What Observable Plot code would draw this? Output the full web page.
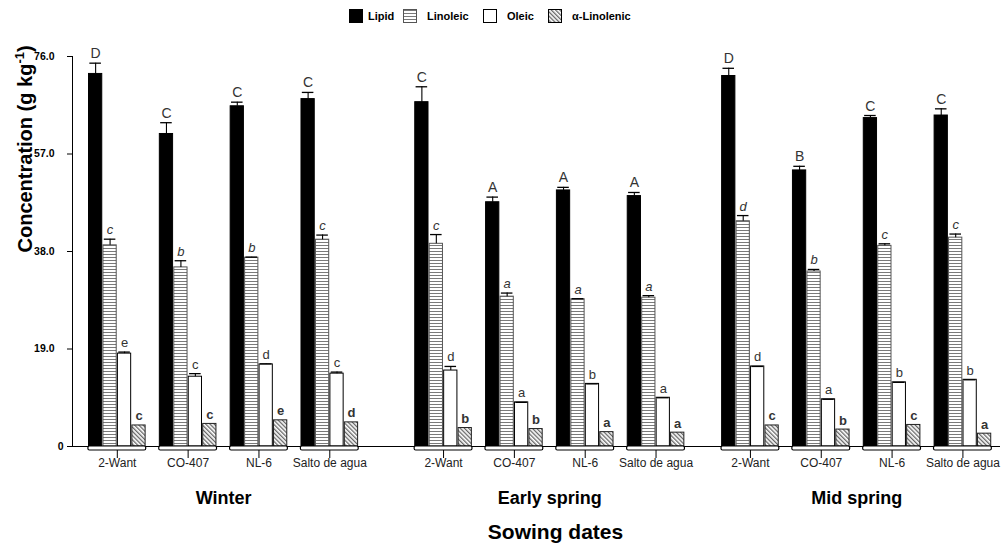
<!DOCTYPE html>
<html>
<head>
<meta charset="utf-8">
<script src="https://cdn.jsdelivr.net/npm/d3@7"></script>
<script src="https://cdn.jsdelivr.net/npm/@observablehq/plot@0.6"></script>
<style>
  html, body { margin: 0; padding: 0; background: #fff; }
  body { width: 1004px; height: 552px; overflow: hidden; font-family: "Liberation Sans", Arial, sans-serif; }
  #legend { position: relative; height: 34px; }
  .item { position: absolute; top: 9px; display: flex; align-items: center; font-size: 11px; font-weight: bold; color: #000; }
  .sw { width: 14px; height: 14px; box-sizing: border-box; }
  .sw svg { display: block; }
</style>
</head>
<body>
<svg width="0" height="0" style="position:absolute">
  <defs>
    <pattern id="hl" patternUnits="userSpaceOnUse" width="6" height="3">
      <rect width="6" height="3" fill="#fff"></rect>
      <rect y="1" width="6" height="1" fill="#7a7a7a"></rect>
    </pattern>
    <pattern id="diag" patternUnits="userSpaceOnUse" width="3" height="6" patternTransform="rotate(-45)">
      <rect width="3" height="6" fill="#fff"></rect>
      <rect x="1" width="1.3" height="6" fill="#666"></rect>
    </pattern>
  </defs>
</svg>
<div id="legend"></div>
<div id="chart"></div>
<script>
// ---------- data ----------
const seasons = ["Winter", "Early spring", "Mid spring"];
const cultivars = ["2-Want", "CO-407", "NL-6", "Salto de agua"];
const acids = ["Lipid", "Linoleic", "Oleic", "α-Linolenic"];
const yTicks = [0, 19, 38, 57, 76];

// values ordered season by season, cultivar by cultivar
const lipid       = [72.6, 60.9, 66.3, 67.7,  67.1, 47.6, 49.9, 48.8,  72.2, 53.8, 64.0, 64.5];
const lipidErr    = [ 2.1,  2.2,  0.8,  1.3,   3.0,  1.0,  0.6,  0.7,   1.5,  0.8,  0.5,  1.3];
const linoleic    = [39.2, 34.9, 36.8, 40.3,  39.5, 29.2, 28.7, 29.0,  43.9, 34.1, 39.1, 40.7];
const linoleicErr = [ 1.2,  1.3,  0.1,  0.9,   1.8,  0.7,  0.1,  0.4,   1.1,  0.4,  0.4,  0.7];
const oleic       = [18.1, 13.6, 16.0, 14.2,  14.8,  8.6, 12.2,  9.5,  15.6,  9.2, 12.5, 13.0];
const oleicErr    = [ 0.3,  0.6,  0.1,  0.3,   0.8,  0.0,  0.0,  0.0,   0.0,  0.0,  0.0,  0.0];
const linolenic   = [ 4.1,  4.4,  5.1,  4.7,   3.6,  3.4,  2.8,  2.7,   4.1,  3.3,  4.2,  2.5];

const lipidLetters     = ["D","C","C","C", "C","A","A","A", "D","B","C","C"];
const linoleicLetters  = ["c","b","b","c", "c","a","a","a", "d","b","c","c"];
const oleicLetters     = ["e","c","d","c", "d","a","b","a", "d","a","b","b"];
const linolenicLetters = ["c","c","e","d", "b","b","a","a", "c","b","c","a"];

// ---------- layout (slot units: one slot = one bar) ----------
const groupPitch = 4.9;           // distance between cultivar groups
const seasonGaps = [3.87, 2.53];  // empty space between season blocks
const seasonWidth = 3 * groupPitch + 4;
const seasonStart = [0];
seasonGaps.forEach((g, i) => seasonStart.push(seasonStart[i] + seasonWidth + g));
const xDomain = [-1.1, 63.1];
const marginTop = 22, marginBottom = 106, svgHeight = 518;
const unitsPerPx = 76 / (svgHeight - marginTop - marginBottom);

const values = [lipid, linoleic, oleic, linolenic];
const errs = [lipidErr, linoleicErr, oleicErr, null];
const letters = [lipidLetters, linoleicLetters, oleicLetters, linolenicLetters];

const rows = [];
const groups = [];
seasons.forEach((season, s) => {
  cultivars.forEach((cultivar, c) => {
    const i = s * cultivars.length + c;
    const start = seasonStart[s] + c * groupPitch;
    groups.push({season, cultivar, start});
    acids.forEach((acid, a) => {
      const v = values[a][i];
      const e = errs[a] ? errs[a][i] : 0;
      rows.push({season, cultivar, acid, a, x1: start + a, value: v, err: e, top: v + e, letter: letters[a][i]});
    });
  });
});
const seasonRows = seasons.map((season, s) => ({season, mid: seasonStart[s] + seasonWidth / 2}));

const fills = ["#000", "url(#hl)", "#fff", "url(#diag)"];
const strokes = ["#000", "#555", "#000", "#222"];
const letterStyle = [
  {fontStyle: "normal", fontWeight: "normal", fontSize: 14},
  {fontStyle: "italic", fontWeight: "normal", fontSize: 13},
  {fontStyle: "normal", fontWeight: "normal", fontSize: 13},
  {fontStyle: "normal", fontWeight: "bold", fontSize: 13}
];

const marks = [];
acids.forEach((acid, a) => {
  const data = rows.filter(d => d.a === a);
  marks.push(Plot.rectY(data, {
    x1: "x1", x2: d => d.x1 + 1, y1: 0, y2: "value",
    fill: fills[a], stroke: strokes[a], strokeWidth: 1, insetLeft: 0.6, insetRight: 0.6
  }));
});
const errRows = rows.filter(d => d.a < 3);
marks.push(Plot.ruleX(errRows.filter(d => d.err > 0), {x: d => d.x1 + 0.5, y1: "value", y2: "top", stroke: "#000", strokeWidth: 1.1}));
marks.push(Plot.ruleY(errRows, {x1: d => d.x1 + 0.1, x2: d => d.x1 + 0.9, y: "top", stroke: "#000", strokeWidth: 1.3}));
acids.forEach((acid, a) => {
  marks.push(Plot.text(rows.filter(d => d.a === a), {
    x: d => d.x1 + 0.5, y: "top", text: "letter", lineAnchor: "bottom", dy: -5,
    fill: "#333", ...letterStyle[a]
  }));
});
// axes
marks.push(Plot.ruleY([0], {stroke: "#000", strokeWidth: 1}));
marks.push(Plot.ruleX([xDomain[0]], {y1: 0, y2: 76, stroke: "#000", strokeWidth: 1}));
marks.push(Plot.axisY({ticks: yTicks, tickFormat: d => d === 0 ? "" : d.toFixed(1), tickSize: 5, tickPadding: 13,
  fontWeight: "bold", fontSize: 10.5, label: null, stroke: "#000", fill: "#000"}));
marks.push(Plot.text([0], {frameAnchor: "left", y: d => d, text: d => String(d), textAnchor: "end", dx: -9,
  fontWeight: "bold", fontSize: 10.5, fill: "#000"}));
// group brackets and cultivar labels
marks.push(Plot.rect(groups, {x1: "start", x2: d => d.start + 4, y1: 0, y2: -4 * unitsPerPx,
  fill: "#fff", stroke: "#000", strokeWidth: 1.2, rx: 1.5}));
marks.push(Plot.ruleX(groups, {x: d => d.start + 2, y1: -4 * unitsPerPx, y2: -12 * unitsPerPx, stroke: "#000", strokeWidth: 1}));
marks.push(Plot.text(groups, {x: d => d.start + 2, frameAnchor: "bottom", dy: 20, text: "cultivar", fontSize: 12, fill: "#222"}));
marks.push(Plot.text(seasonRows, {x: "mid", frameAnchor: "bottom", dy: 57, text: "season", fontSize: 18, fontWeight: "bold", fill: "#000"}));
marks.push(Plot.text(["Sowing dates"], {frameAnchor: "bottom", dx: 19, dy: 92, text: d => d, fontSize: 21, fontWeight: "bold", fill: "#000"}));
marks.push(Plot.text(["Concentration (g kg-1)"], {frameAnchor: "left", dx: -47, dy: 1, rotate: -90, text: d => d,
  fontSize: 20, fontWeight: "bold", fill: "#000", className: "ylab"}));

const chart = Plot.plot({
  width: 1004, height: svgHeight,
  marginLeft: 72, marginRight: 4, marginTop, marginBottom,
  style: {fontFamily: "'Liberation Sans', Arial, sans-serif", background: "#fff", overflow: "visible"},
  x: {type: "linear", domain: xDomain, axis: null},
  y: {domain: [0, 76], axis: null},
  marks
});
document.getElementById("chart").appendChild(chart);

// superscript on the y label
chart.querySelectorAll("text").forEach(t => {
  if (t.textContent === "Concentration (g kg-1)") {
    t.textContent = "Concentration (g kg";
    const ns = "http://www.w3.org/2000/svg";
    const sup = document.createElementNS(ns, "tspan");
    sup.setAttribute("dy", "-8"); sup.setAttribute("font-size", "13"); sup.textContent = "-1";
    const close = document.createElementNS(ns, "tspan");
    close.setAttribute("dy", "8"); close.textContent = ")";
    t.appendChild(sup); t.appendChild(close);
  }
});

// legend
const legendPos = [[349, 5], [403, 10], [483, 10], [548, 10]];
const legend = document.getElementById("legend");
acids.forEach((acid, a) => {
  const item = document.createElement("div");
  item.className = "item";
  item.style.left = legendPos[a][0] + "px";
  const stroke = a === 1 ? "#555" : "#000";
  item.innerHTML = `<div class="sw"><svg width="14" height="14"><rect x="0.5" y="0.5" width="13" height="13" fill="${fills[a]}" stroke="${stroke}"></rect></svg></div><span style="margin-left:${legendPos[a][1]}px">${acid}</span>`;
  legend.appendChild(item);
});
</script>
</body>
</html>
